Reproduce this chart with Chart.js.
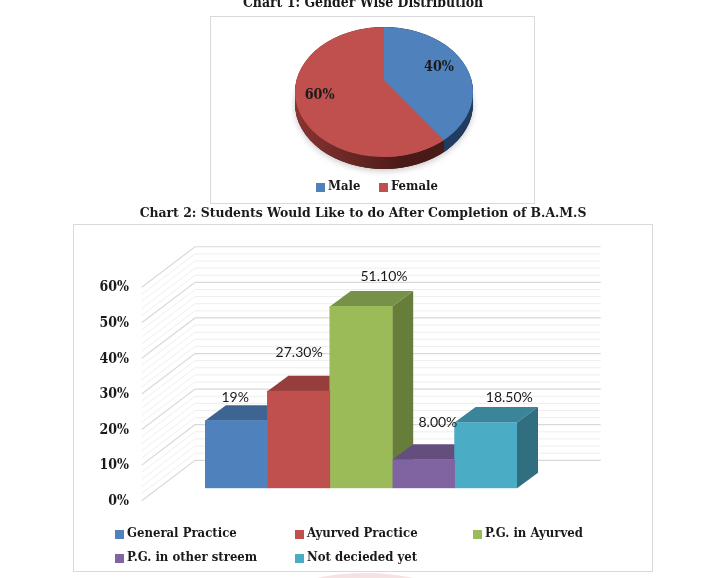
<!DOCTYPE html>
<html><head><meta charset="utf-8">
<style>
html,body{margin:0;padding:0;background:#fff;width:726px;height:578px;overflow:hidden}
canvas{position:absolute;left:0}
.box{position:absolute;border:1px solid #d9d9d9;box-sizing:border-box;background:#fff}
.mark{position:absolute;left:132px;top:573px;width:466px;height:466px;border:6px solid #f6e2e2;border-radius:50%;box-sizing:border-box}
</style></head>
<body>
<div class="mark"></div>
<div class="box" style="left:210px;top:16px;width:325px;height:188px"></div>
<div class="box" style="left:73px;top:224px;width:580px;height:348px"></div>
<canvas id="pie" width="726" height="212" style="top:-5px"></canvas>
<canvas id="bar" width="726" height="368" style="top:204px"></canvas>
<script src="https://cdn.jsdelivr.net/npm/chart.js@4"></script>
<script>
const pieTitle = 'Chart 1: Gender Wise Distribution';
const pieLabels = ['Male', 'Female'];
const pieValues = [40, 60];
const pieColors = ['#4f81bd', '#c0504d'];
const pieSides = [['#1b3553', '#203c60'], ['#8a3431', '#4a1a18']];

const barTitle = 'Chart 2: Students Would Like to do After Completion of B.A.M.S';
const barLabels = ['General Practice', 'Ayurved Practice', 'P.G. in Ayurved', 'P.G. in other streem', 'Not decieded yet'];
const barValues = [19, 27.3, 51.1, 8, 18.5];
const barText = ['19%', '27.30%', '51.10%', '8.00%', '18.50%'];
const barColors = ['#4f81bd', '#c0504d', '#9bbb59', '#8064a2', '#4bacc6'];
const barTops = ['#3e6591', '#953e3b', '#789148', '#634e7e', '#3a8599'];
const barSides = ['#325274', '#7a3230', '#677d3a', '#50406a', '#306e80'];
const yTicks = [0, 10, 20, 30, 40, 50, 60];

const SERIF = '"DejaVu Serif Condensed","DejaVu Serif",serif';
const TEXT = '#1a1a1a';
Chart.defaults.animation = false;
Chart.defaults.responsive = false;
Chart.defaults.devicePixelRatio = 1;

const legendBoxes = {
  id: 'legendBoxes',
  afterDraw(chart, args, o) {
    const c = chart.ctx;
    c.save();
    c.font = 'bold 13px ' + SERIF;
    c.textBaseline = 'middle';
    o.places.forEach((p, i) => {
      c.fillStyle = o.colors[i];
      c.fillRect(p[0], p[1] - 4 - o.top, 9, 9);
      c.fillStyle = TEXT;
      c.fillText(o.labels[i], p[0] + 12, p[1] - o.top);
    });
    c.restore();
  }
};

const G = {cx: 384, cy: 92, rx: 89, ry: 65, apex: 12, depth: 12, k: -0.1846, d: 86};
const project = t => {
  const X = Math.sin(t), Y = -Math.cos(t), w = 1 + G.k * Y;
  return {x: G.cx + G.d * X / w, y: G.cy + (G.ry * Y - G.apex) / w};
};
const pie3d = {
  id: 'pie3d',
  beforeDatasetsDraw(chart) {
    const c = chart.ctx, top = chart.canvas.offsetTop;
    const arcs = chart.getDatasetMeta(0).data;
    const a = arcs[0];
    const edge = project(a.endAngle + Math.PI / 2);
    const cy = G.cy - top;
    c.save();
    c.save();
    c.shadowColor = 'rgba(0,0,0,.22)'; c.shadowBlur = 6; c.shadowOffsetY = 2;
    c.fillStyle = '#4a1a18';
    c.beginPath(); c.ellipse(G.cx, cy + G.depth, G.rx, G.ry, 0, 0, 2 * Math.PI); c.fill();
    c.restore();
    const sides = [[edge.x, 726, 0], [0, edge.x, 1]];
    sides.forEach(([l, r, i]) => {
      c.save();
      c.beginPath(); c.rect(l, 0, r - l, 300); c.clip();
      const g = c.createLinearGradient(G.cx - G.rx, 0, G.cx + 20, 0);
      g.addColorStop(0, pieSides[i][0]); g.addColorStop(1, pieSides[i][1]);
      c.fillStyle = g;
      for (let d = G.depth; d >= 0; d--) {
        c.beginPath(); c.ellipse(G.cx, cy + d, G.rx, G.ry, 0, 0, 2 * Math.PI); c.fill();
      }
      c.restore();
    });
    c.restore();
    c.save();
    c.translate(G.cx, cy);
    c.scale(G.rx / a.outerRadius, G.ry / a.outerRadius);
    c.translate(-a.x, -a.y);
  },
  afterDatasetsDraw(chart, args, o) {
    const c = chart.ctx, top = chart.canvas.offsetTop;
    c.restore();
    const arcs = chart.getDatasetMeta(0).data;
    const cy = G.cy - top, ax = G.cx, ay = cy - G.apex;
    const e = project(arcs[0].endAngle + Math.PI / 2);
    const ex = e.x, ey = e.y - top;
    c.save();
    c.beginPath(); c.ellipse(G.cx, cy, G.rx, G.ry, 0, 0, 2 * Math.PI); c.clip();
    c.fillStyle = pieColors[1];
    c.beginPath();
    c.moveTo(ax, ay);
    c.lineTo(ax + 1.6 * (ex - ax), ay + 1.6 * (ey - ay));
    c.lineTo(ax, cy + G.ry + 20);
    c.closePath(); c.fill();
    c.restore();
    c.save();
    c.font = 'bold 14.2px ' + SERIF;
    c.textAlign = 'center'; c.textBaseline = 'middle'; c.fillStyle = TEXT;
    arcs.forEach((a, i) => {
      const m = (a.startAngle + a.endAngle) / 2 + Math.PI / 2;
      const f = o.reach[i];
      c.fillText(pieValues[i] + '%', ax + f * G.rx * Math.sin(m), ay - f * G.ry * Math.cos(m));
    });
    c.restore();
  }
};

new Chart(document.getElementById('pie'), {
  type: 'pie',
  data: {labels: pieLabels, datasets: [{data: pieValues, backgroundColor: pieColors, borderWidth: 0, clip: false}]},
  options: {
    layout: {padding: {top: 0, bottom: 10}},
    plugins: {
      legend: {display: false}, tooltip: {enabled: false},
      title: {display: true, text: pieTitle, color: TEXT, padding: {top: 0, bottom: 20}, font: {family: SERIF, size: 13.9, weight: 'bold'}},
      pie3d: {reach: [0.65, 0.76]},
      legendBoxes: {labels: pieLabels, colors: pieColors, top: -5, places: [[316, 187], [379, 187]]}
    }
  },
  plugins: [pie3d, legendBoxes]
});

const DX = 21, DY = -15.5;
const bar3d = {
  id: 'bar3d',
  beforeDatasetsDraw(chart, args, o) {
    const c = chart.ctx, y = chart.scales.y;
    c.save();
    const wall = {fx: 141.7, bx: 195, rx: 600.7, f: 12.4, b: -28};
    for (let v = 0; v <= 60; v += 2) {
      const p = y.getPixelForValue(v), major = v % 10 === 0;
      c.strokeStyle = major ? '#d9d9d9' : '#eeeeee';
      c.lineWidth = major ? 1.2 : 1;
      c.beginPath();
      c.moveTo(wall.fx, p + wall.f);
      c.lineTo(wall.bx, p + wall.b);
      c.lineTo(wall.rx, p + wall.b);
      c.stroke();
    }
    chart.data.datasets.forEach((ds, i) => {
      const b = chart.getDatasetMeta(i).data[0];
      const l = b.x - b.width / 2, r = b.x + b.width / 2, t = b.y, base = b.base;
      c.fillStyle = barTops[i];
      c.beginPath(); c.moveTo(l, t); c.lineTo(l + DX, t + DY); c.lineTo(r + DX, t + DY); c.lineTo(r, t); c.closePath(); c.fill();
      c.fillStyle = barSides[i];
      c.beginPath(); c.moveTo(r, t); c.lineTo(r + DX, t + DY); c.lineTo(r + DX, base + DY); c.lineTo(r, base); c.closePath(); c.fill();
    });
    c.restore();
  },
  afterDatasetsDraw(chart, args, o) {
    const c = chart.ctx;
    c.save();
    c.font = '14px Lato,sans-serif';
    c.textAlign = 'center'; c.textBaseline = 'middle'; c.fillStyle = TEXT;
    chart.data.datasets.forEach((ds, i) => {
      const b = chart.getDatasetMeta(i).data[0];
      c.fillText(barText[i], b.x + o.shift[i][0], b.y + o.shift[i][1]);
    });
    c.restore();
  }
};

new Chart(document.getElementById('bar'), {
  type: 'bar',
  data: {
    labels: [''],
    datasets: barLabels.map((name, i) => ({label: name, data: [barValues[i]], backgroundColor: barColors[i], borderWidth: 0, barPercentage: 1, categoryPercentage: 1}))
  },
  options: {
    layout: {padding: {left: 0, right: 0, top: 0, bottom: 83.7}},
    scales: {
      x: {display: false},
      y: {
        min: yTicks[0], max: yTicks[yTicks.length - 1],
        afterFit(s) { s.width = 205; s.paddingTop = 0; s.paddingBottom = 0; },
        grid: {display: false}, border: {display: false},
        ticks: {stepSize: 10, padding: 68, labelOffset: 13, color: TEXT, font: {family: SERIF, size: 14, weight: 'bold'}, callback: v => v + '%'}
      },
      rightGap: {
        type: 'linear', position: 'right',
        afterFit(s) { s.width = 209; s.paddingTop = 0; s.paddingBottom = 0; },
        grid: {display: false}, border: {display: false}, ticks: {display: false}
      }
    },
    plugins: {
      legend: {display: false}, tooltip: {enabled: false},
      title: {display: true, text: barTitle, color: TEXT, padding: {top: 1.5, bottom: 52.7}, font: {family: SERIF, size: 13.8, weight: 'bold'}},
      bar3d: {shift: [[-1, -22.7], [0.5, -39], [23, -30], [14.5, -37], [23.5, -25.4]]},
      legendBoxes: {labels: barLabels, colors: barColors, top: 204, places: [[115, 534], [295, 534], [473, 534], [115, 558], [295, 558]]}
    }
  },
  plugins: [bar3d, legendBoxes]
});
</script>
</body></html>
